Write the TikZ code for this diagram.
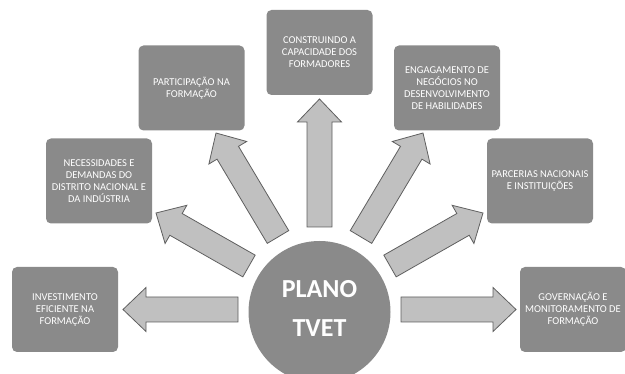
\documentclass[tikz,border=0pt]{standalone}
\usepackage{fontspec}
\setmainfont{Carlito}
\usetikzlibrary{calc}

\definecolor{boxgray}{RGB}{138,138,138}
\definecolor{arrowgray}{RGB}{192,192,192}
\definecolor{linegray}{RGB}{95,95,95}

% block arrow from a tail coordinate to a tip coordinate
\newcommand{\blockarrow}[2]{%
  \coordinate (neck) at ($(#2)!23pt!(#1)$);
  \draw[arrowbody] ($(#1)!12.5pt!90:(#2)$) -- ($(neck)!12.5pt!90:(#2)$)
    -- ($(neck)!22pt!90:(#2)$) -- (#2) -- ($(neck)!22pt!-90:(#2)$)
    -- ($(neck)!12.5pt!-90:(#2)$) -- ($(#1)!12.5pt!-90:(#2)$) -- cycle;
}

\begin{document}
\begin{tikzpicture}[x=1pt,y=-1pt,
    topic/.style={fill=boxgray, rounded corners=5pt, minimum width=106pt,
      minimum height=85pt, inner sep=2pt, align=center, text=white,
      font=\fontsize{10.5}{12}\selectfont},
    arrowbody/.style={fill=arrowgray, draw=linegray, line width=0.8pt, line join=miter}]
	\useasboundingbox (0,0) rectangle (625,374);
	\clip (0,0) rectangle (625,374);
	
	% Topic boxes
	\node[topic] (invest) at (65,309.5) {INVESTIMENTO\\EFICIENTE NA\\FORMAÇÃO};
	\node[topic] (necess) at (99,181) {NECESSIDADES E\\DEMANDAS DO\\DISTRITO NACIONAL E\\DA INDÚSTRIA};
	\node[topic] (partic) at (191.5,88) {PARTICIPAÇÃO NA\\FORMAÇÃO};
	\node[topic] (constr) at (319.5,52.5) {CONSTRUINDO A\\CAPACIDADE DOS\\FORMADORES};
	\node[topic] (engaj) at (447,88) {ENGAGAMENTO DE\\NEGÓCIOS NO\\DESENVOLVIMENTO\\DE HABILIDADES};
	\node[topic] (parcer) at (540,181) {PARCERIAS NACIONAIS\\E INSTITUIÇÕES};
	\node[topic] (govern) at (573,309.5) {GOVERNAÇÃO E\\MONITORAMENTO DE\\FORMAÇÃO};
	
	% Centre circle
	\node[circle, fill=boxgray, minimum size=142pt, inner sep=0pt] (plano) at (319.5,312) {};
	\node[text=white, align=center, font=\fontsize{26}{39}\selectfont\bfseries] (planotext) at (319.5,308) {PLANO\\TVET};
	
	% Arrow tails and tips
	\coordinate (t1) at (238,309.5);   \coordinate (h1) at (123,309.5);
	\coordinate (t2) at (249,266);     \coordinate (h2) at (156,213);
	\coordinate (t3) at (278,237);     \coordinate (h3) at (216,133);
	\coordinate (t4) at (319.5,227);   \coordinate (h4) at (319.5,99);
	\coordinate (t5) at (361,237);     \coordinate (h5) at (423,133);
	\coordinate (t6) at (390,266);     \coordinate (h6) at (483,213);
	\coordinate (t7) at (401,309.5);   \coordinate (h7) at (516,309.5);
	
	% Arrows
	\foreach \i in {1,...,7}
		{\blockarrow{t\i}{h\i}}
	
\end{tikzpicture}
\end{document}
